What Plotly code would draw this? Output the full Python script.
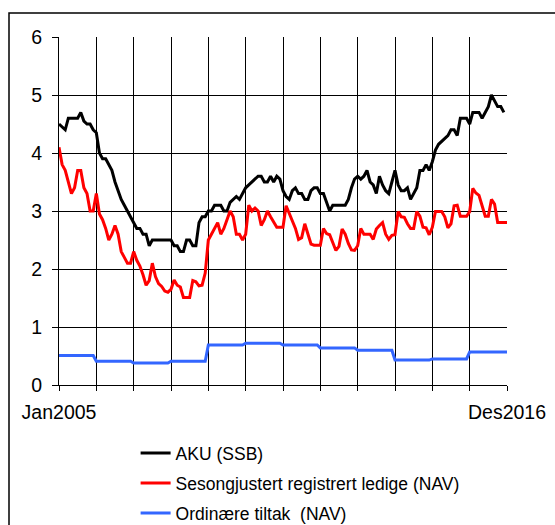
import numpy as np
import plotly.graph_objects as go

# Monthly index 0 = Jan2005
aku_ssb = [4.5, 4.45, 4.4, 4.6, 4.6, 4.6, 4.6, 4.7, 4.55, 4.5, 4.5, 4.4,
           4.35, 4.0, 3.9, 3.9, 3.8, 3.7, 3.5, 3.35, 3.2, 3.1, 3.0, 2.9,
           2.8, 2.7, 2.7, 2.6, 2.6, 2.4, 2.5, 2.5, 2.5, 2.5, 2.5, 2.5,
           2.5, 2.4, 2.4, 2.3, 2.3, 2.5, 2.5, 2.4, 2.4, 2.8, 2.9, 2.9,
           3.0, 3.0, 3.1, 3.1, 3.1, 3.0, 3.0, 3.15, 3.2, 3.25, 3.2, 3.3,
           3.4, 3.45, 3.5, 3.55, 3.6, 3.6, 3.5, 3.5, 3.6, 3.5, 3.6, 3.55,
           3.35, 3.25, 3.2, 3.35, 3.4, 3.3, 3.3, 3.2, 3.2, 3.35, 3.4, 3.4,
           3.3, 3.3, 3.15, 3.0, 3.1, 3.1, 3.1, 3.1, 3.1, 3.2, 3.4, 3.55,
           3.6, 3.55, 3.6, 3.7, 3.5, 3.45, 3.3, 3.6, 3.45, 3.35, 3.3, 3.5,
           3.7, 3.45, 3.35, 3.35, 3.4, 3.2, 3.3, 3.4, 3.7, 3.7, 3.8, 3.7,
           3.85, 4.05, 4.15, 4.2, 4.25, 4.3, 4.4, 4.4, 4.3, 4.6, 4.6, 4.6,
           4.5, 4.7, 4.7, 4.7, 4.6, 4.7, 4.8, 5.0, 4.9, 4.8, 4.8, 4.7]

registrert_ledige = [4.1, 3.8, 3.7, 3.5, 3.3, 3.4, 3.7, 3.7, 3.4, 3.3, 3.0, 3.0,
                     3.3, 2.95, 2.85, 2.7, 2.5, 2.6, 2.75, 2.6, 2.3, 2.2, 2.1, 2.1,
                     2.3, 2.15, 2.05, 1.9, 1.72, 1.8, 2.1, 1.87, 1.75, 1.7, 1.62, 1.6,
                     1.65, 1.81, 1.72, 1.69, 1.51, 1.51, 1.51, 1.8, 1.78, 1.71, 1.72, 1.93,
                     2.5, 2.6, 2.7, 2.8, 2.6, 2.7, 2.85, 3.0, 2.9, 2.6, 2.6, 2.5,
                     2.6, 3.1, 3.0, 3.05, 3.0, 2.75, 2.85, 3.0, 2.9, 2.8, 2.72, 2.72,
                     2.72, 3.09, 2.96, 2.82, 2.7, 2.51, 2.54, 2.78, 2.61, 2.43, 2.41, 2.41,
                     2.41, 2.7, 2.61, 2.59, 2.44, 2.32, 2.39, 2.69, 2.6, 2.44, 2.33, 2.32,
                     2.4, 2.7, 2.6, 2.6, 2.6, 2.51, 2.69, 2.75, 2.8, 2.6, 2.51, 2.58,
                     2.59, 2.99, 2.9, 2.89, 2.78, 2.7, 2.7, 2.99, 2.91, 2.72, 2.71, 2.59,
                     2.72, 2.99, 2.99, 2.99, 2.9, 2.71, 2.78, 3.09, 3.1, 2.91, 2.91, 2.91,
                     2.99, 3.39, 3.31, 3.27, 3.09, 2.91, 2.91, 3.2, 3.12, 2.8, 2.8, 2.8,
                     2.8]

# Annual values (2005-2016), constant within each year
ordinaere_tiltak_aar = [0.51, 0.41, 0.38, 0.41, 0.69, 0.72, 0.69, 0.64, 0.60, 0.43, 0.45, 0.57]

x_tick_vals = list(range(0, 145, 12))
x_tick_text = ["Jan2005"] + [""] * 11 + ["Des2016"]
y_tick_vals = [0, 1, 2, 3, 4, 5, 6]

tiltak = list(np.repeat(ordinaere_tiltak_aar, 12)) + [ordinaere_tiltak_aar[-1]]

fig = go.Figure()
fig.add_trace(go.Scatter(x=list(range(len(aku_ssb))), y=aku_ssb, mode="lines",
                         name="AKU (SSB)", line=dict(color="#000000", width=3),
                         legend="legend"))
fig.add_trace(go.Scatter(x=list(range(len(registrert_ledige))), y=registrert_ledige, mode="lines",
                         name="Sesongjustert registrert ledige (NAV)", line=dict(color="#FF0000", width=3),
                         legend="legend2"))
fig.add_trace(go.Scatter(x=list(range(len(tiltak))), y=tiltak, mode="lines",
                         name="Ordinære tiltak  (NAV)", line=dict(color="#3366FF", width=3),
                         legend="legend3"))

font_family = "Liberation Sans, Arial, sans-serif"
leg_common = dict(x=0.171, xanchor="left", yanchor="middle", orientation="v",
                  font=dict(size=17.5, family=font_family, color="black"),
                  bgcolor="rgba(0,0,0,0)", itemwidth=30)
fig.update_layout(
    width=555, height=525,
    margin=dict(l=59, r=48, t=37, b=140, autoexpand=False),
    paper_bgcolor="white", plot_bgcolor="white",
    font=dict(family=font_family, size=19.5, color="black"),
    showlegend=True,
    legend=dict(y=(385 - 453) / 348, **leg_common),
    legend2=dict(y=(385 - 483) / 348, **leg_common),
    legend3=dict(y=(385 - 513) / 348, **leg_common),
    xaxis=dict(range=[0, 144], tickmode="array", tickvals=x_tick_vals, ticktext=x_tick_text,
               showgrid=True, gridcolor="black", gridwidth=1,
               showline=True, linecolor="black", linewidth=1,
               ticks="outside", ticklen=5, tickcolor="black", tickwidth=1,
               ticklabelstandoff=5,
               zeroline=False, fixedrange=True),
    yaxis=dict(range=[0, 6], tickmode="array", tickvals=y_tick_vals,
               showgrid=True, gridcolor="black", gridwidth=1,
               showline=True, linecolor="black", linewidth=1,
               ticks="outside", ticklen=6, tickcolor="black", tickwidth=1,
               ticklabelstandoff=6,
               zeroline=False, fixedrange=True),
    shapes=[dict(type="rect", xref="paper", yref="paper",
                 x0=(9 - 59) / 448, x1=(600 - 59) / 448,
                 y0=(385 - 560) / 348, y1=(385 - 13) / 348,
                 line=dict(color="black", width=1.5), layer="below")],
)

fig.write_html("out.html", config={"displayModeBar": False},
               post_script="document.body.style.margin='0px';")
